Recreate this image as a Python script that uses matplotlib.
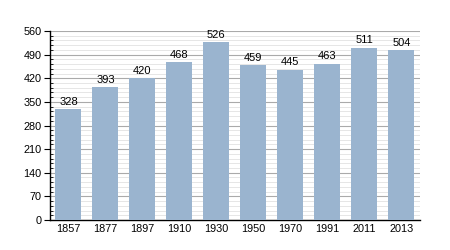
import matplotlib.pyplot as plt
from matplotlib.ticker import MultipleLocator

years = ['1857', '1877', '1897', '1910', '1930', '1950', '1970', '1991', '2011', '2013']
population = [328, 393, 420, 468, 526, 459, 445, 463, 511, 504]

plt.rcParams['font.family'] = ['Liberation Sans', 'DejaVu Sans']

fig = plt.figure(figsize=(4.5, 2.5), dpi=100)
ax = fig.add_axes([0.111, 0.12, 0.822, 0.756])

x = range(len(years))
ax.bar(x, population, width=0.7, color='#9ab4cf', zorder=3)
for xi, v in zip(x, population):
    ax.text(xi, v + 7, str(v), ha='center', va='bottom', fontsize=8, zorder=4)

ax.set_xlim(-0.5, len(years) - 0.5)
ax.set_ylim(0, 560)
ax.set_xticks(list(x))
ax.set_xticklabels(years, fontsize=7.8)
ax.yaxis.set_major_locator(MultipleLocator(70))
ax.yaxis.set_minor_locator(MultipleLocator(14))
ax.tick_params(axis='y', labelsize=7.8, length=4, width=0.8, pad=2)
ax.tick_params(axis='y', which='minor', direction='in', length=2.5, width=0.6)
ax.tick_params(axis='x', length=0, pad=3)
ax.grid(axis='y', which='major', color='#aaaaaa', linewidth=0.8, zorder=1)
ax.grid(axis='y', which='minor', color='#e2e2e2', linewidth=0.6, zorder=1)

for s in ['top', 'right']:
    ax.spines[s].set_visible(False)
ax.spines['left'].set_linewidth(1)
ax.spines['bottom'].set_linewidth(1)

plt.savefig('out.png', dpi=100)
